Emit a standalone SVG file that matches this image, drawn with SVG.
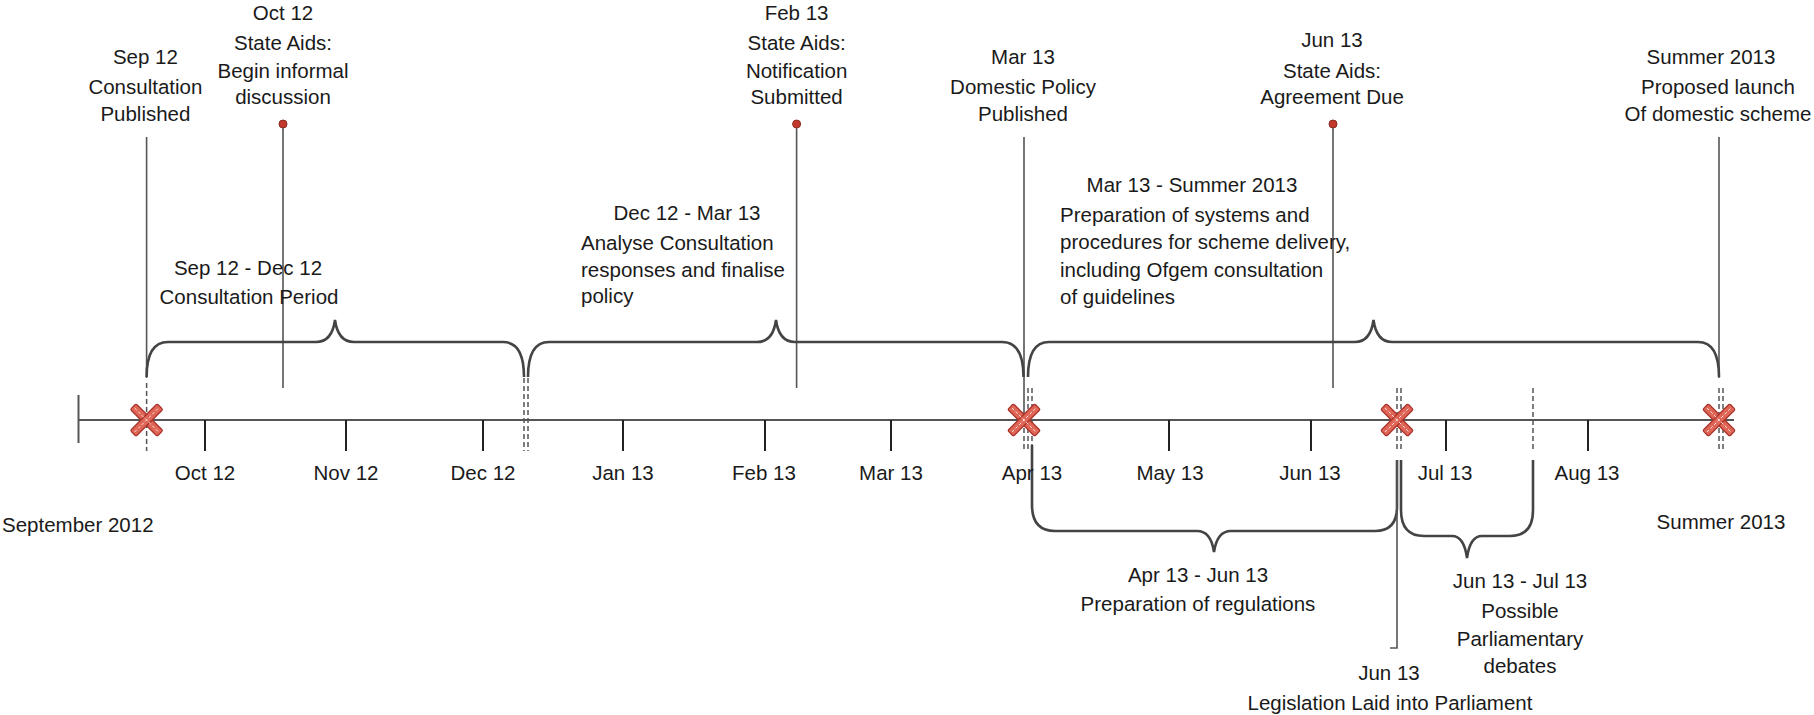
<svg xmlns="http://www.w3.org/2000/svg" xmlns:xlink="http://www.w3.org/1999/xlink" width="1814" height="715" viewBox="0 0 1814 715">
<style>
text{font-family:"Liberation Sans",Arial,sans-serif;font-size:20.5px;fill:#1a1a1a}
.c{text-anchor:middle}
.ev{stroke:#555;stroke-width:1.6;fill:none}
.br{stroke:#444;stroke-width:2.6;fill:none}
.tk{stroke:#222;stroke-width:2;fill:none}
.ds{stroke:#555;stroke-width:1.5;fill:none;stroke-dasharray:5 3}
.ax{stroke:#555;stroke-width:2;fill:none}
.dot{fill:#c0392b;stroke:#8e2a1f;stroke-width:1}
.xr{fill:#df6657;stroke:#a8322a;stroke-width:1.2}
.xd{stroke:#fbe0dc;stroke-width:1;stroke-dasharray:3 2}
</style>
<defs>
<g id="xmark">
<rect x="-19" y="-4" width="38" height="8" rx="1.5" transform="rotate(45)" class="xr"/>
<rect x="-19" y="-4" width="38" height="8" rx="1.5" transform="rotate(-45)" class="xr"/>
<line x1="-12" y1="-12" x2="12" y2="12" class="xd"/>
<line x1="-12" y1="12" x2="12" y2="-12" class="xd"/>
</g>
</defs>
<g id="connectors">
<line class="ax" x1="78.5" y1="420" x2="1734" y2="420"/>
<line class="ax" x1="78.5" y1="395" x2="78.5" y2="443"/>
<path class="tk" d="M205,420V451M346,420V451M483,420V451M623,420V451M765,420V451M891,420V451M1169,420V451M1311,420V451M1446,420V451M1588,420V451"/>
<path class="ev" d="M146.6,137V378M283,124V388M796.6,124V388M1024,137V420M1333,124V388M1719,137V378"/>
<path class="ds" d="M146.6,383V451M524,378V451M528,378V451M1024,420V451M1028,388V451M1032,388V451M1397,388V451M1401,388V451M1533,388V451M1719,388V451M1723,388V451"/>
<path class="br" d="M146.6,377Q146.6,342 168,342L316,342Q332,342 335,320Q338,342 354,342L503,342Q524,342 524,377"/>
<path class="br" d="M528,377Q528,342 549,342L757,342Q773,342 776,320Q779,342 795,342L1002,342Q1023.5,342 1023.5,377"/>
<path class="br" d="M1028,377Q1028,342 1049,342L1355,342Q1370.5,342 1373.5,320Q1376.5,342 1392,342L1698,342Q1719,342 1719,377"/>
<path class="br" d="M1032,445L1032,505Q1032,531 1055,531L1197,531Q1211,531 1214,552Q1217,531 1231,531L1375,531Q1397,531 1397,507L1397,460"/>
<path class="br" d="M1401,460L1401,510Q1401,536 1424,536L1452,536Q1464,536 1467,558Q1470,536 1482,536L1510,536Q1533,536 1533,510L1533,460"/>
<path class="ev" d="M1397,460V648H1390"/>
<circle class="dot" cx="283" cy="124" r="4"/>
<circle class="dot" cx="796.6" cy="124" r="4"/>
<circle class="dot" cx="1333" cy="124" r="4"/>
<use xlink:href="#xmark" x="146.6" y="420"/>
<use xlink:href="#xmark" x="1024" y="420"/>
<use xlink:href="#xmark" x="1397" y="420"/>
<use xlink:href="#xmark" x="1719" y="420"/>
</g>
<g id="axis-labels">
<text x="205" y="480" class="c">Oct 12</text>
<text x="346" y="480" class="c">Nov 12</text>
<text x="483" y="480" class="c">Dec 12</text>
<text x="623" y="480" class="c">Jan 13</text>
<text x="764" y="480" class="c">Feb 13</text>
<text x="891" y="480" class="c">Mar 13</text>
<text x="1032" y="480" class="c">Apr 13</text>
<text x="1170" y="480" class="c">May 13</text>
<text x="1310" y="480" class="c">Jun 13</text>
<text x="1445" y="480" class="c">Jul 13</text>
<text x="1587" y="480" class="c">Aug 13</text>
<text x="2" y="532">September 2012</text>
<text x="1721" y="529" class="c">Summer 2013</text>
</g>
<g id="n-sep12">
<text x="145.4" y="64" class="c">Sep 12</text>
<text x="145.4" y="94" class="c">Consultation</text>
<text x="145.4" y="121" class="c">Published</text>
</g>
<g id="n-oct12">
<text x="283" y="20" class="c">Oct 12</text>
<text x="283" y="50" class="c">State Aids:</text>
<text x="283" y="78" class="c">Begin informal</text>
<text x="283" y="104" class="c">discussion</text>
</g>
<g id="n-feb13">
<text x="796.6" y="20" class="c">Feb 13</text>
<text x="796.6" y="50" class="c">State Aids:</text>
<text x="796.6" y="78" class="c">Notification</text>
<text x="796.6" y="104" class="c">Submitted</text>
</g>
<g id="n-mar13">
<text x="1023" y="64" class="c">Mar 13</text>
<text x="1023" y="94" class="c">Domestic Policy</text>
<text x="1023" y="121" class="c">Published</text>
</g>
<g id="n-jun13">
<text x="1332" y="47" class="c">Jun 13</text>
<text x="1332" y="78" class="c">State Aids:</text>
<text x="1332" y="104" class="c">Agreement Due</text>
</g>
<g id="n-summer">
<text x="1711" y="64" class="c">Summer 2013</text>
<text x="1718" y="94" class="c">Proposed launch</text>
<text x="1718" y="121" class="c">Of domestic scheme</text>
</g>
<g id="p-consult">
<text x="248" y="275" class="c">Sep 12 - Dec 12</text>
<text x="249" y="304" class="c">Consultation Period</text>
</g>
<g id="p-analyse">
<text x="687" y="220" class="c">Dec 12 - Mar 13</text>
<text x="581" y="250">Analyse Consultation</text>
<text x="581" y="277">responses and finalise</text>
<text x="581" y="303">policy</text>
</g>
<g id="p-prep">
<text x="1192" y="192" class="c">Mar 13 - Summer 2013</text>
<text x="1060" y="222">Preparation of systems and</text>
<text x="1060" y="249">procedures for scheme delivery,</text>
<text x="1060" y="277">including Ofgem consultation</text>
<text x="1060" y="304">of guidelines</text>
</g>
<g id="p-regs">
<text x="1198" y="582" class="c">Apr 13 - Jun 13</text>
<text x="1198" y="611" class="c">Preparation of regulations</text>
</g>
<g id="p-debates">
<text x="1520" y="588" class="c">Jun 13 - Jul 13</text>
<text x="1520" y="618" class="c">Possible</text>
<text x="1520" y="646" class="c">Parliamentary</text>
<text x="1520" y="673" class="c">debates</text>
</g>
<g id="n-legislation">
<text x="1389" y="680" class="c">Jun 13</text>
<text x="1390" y="710" class="c">Legislation Laid into Parliament</text>
</g>
</svg>
